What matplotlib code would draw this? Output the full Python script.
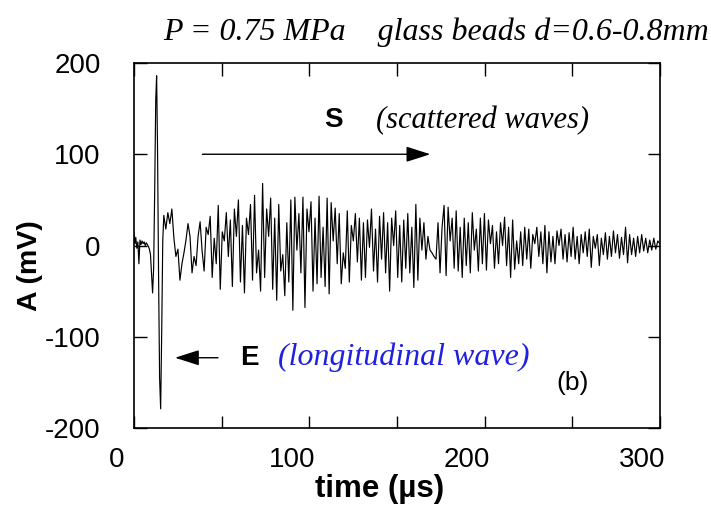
import matplotlib
matplotlib.use("Agg")
import matplotlib.pyplot as plt
import matplotlib.transforms as mtransforms
import numpy as np

plt.rcParams["axes.unicode_minus"] = False

# direct (longitudinal) arrival, read point by point
t_early = [10.0, 10.5, 11.0, 11.6, 12.2, 12.8, 13.4, 14.0, 14.6, 15.2, 15.8,
           16.4, 17.0, 17.6, 18.2, 18.8, 19.4, 20.0, 20.6, 21.2, 21.8, 22.4,
           22.9, 23.4, 24.0, 24.6, 25.2, 25.8, 26.4]
a_early = [14, 2, 9, -3, 4, -20, 6, 1, 5, 2, 4,
           0, 3, 1, -1, -4, -10, -30, -52, -25, 60, 160,
           186, 110, -30, -145, -179, -95, 5]

# scattered coda, one value every coda_dt microseconds from coda_t0
coda_t0 = 27.0
coda_dt = 1.15
a_coda = [
    33, 18, 36, 24, 40, 8, -12, -4, -38, -20,
    -8, 6, 24, 10, -30, -12, -22, 10, 26, -6,
    -28, 20, 12, 32, -35, 8, -20, 44, -48, 15,
    5, 36, -12, 28, -45, 40, 10, 50, -40, 22,
    -52, 30, 12, 45, -38, 55, -30, -5, -50, 68,
    -35, 40, 10, 52, -48, 30, -60, 45, -28, -10,
    -55, 25, -40, 50, -71, 53, -5, 35, -30, 53,
    -68, 40, 15, 48, -50, 30, -42, 54, -35, 20,
    -45, 52, -53, 47, 5, 41, -20, 35, -42, -8,
    -25, 38, -40, 22, 5, 35, -18, 30, -38, 25,
    -35, 28, -2, 40, -28, 18, -40, 32, -15, 36,
    -30, 25, -50, 30, 0, 38, -35, 22, -40, 28,
    -25, 35, -30, 20, -46, 45, -38, 30, -5, 25,
    -15, 10, -5, -8, -12, -15, 25, -30, 20, 44,
    -33, 42, 5, 30, -25, 38, -28, 20, -35, 30,
    -22, 25, -30, 36, -5, 18, -28, 30, -20, 35,
    -27, 28, 2, 22, -25, 15, -20, 25, 0, 31,
    -22, 20, -35, 28, -26, 5, -20, 15, -22, 20,
    -15, 18, -25, 12, 2, 20, -12, 15, -20, 22,
    -30, 15, -18, 10, -20, 16, 0, 18, -15, 12,
    -18, 14, -12, 20, -15, 10, -20, 12, -8, 15,
    -12, 18, -24, 10, -3, 12, -22, 8, -10, 14,
    -15, 10, -12, 16, -8, 12, -14, 9, -10, 20,
    -19, 12, -10, 8, -12, 10, -8, 12, -6, 8,
    -8, 6, -5, 8, -4, 5, 2,
]

x_tick_marks = [10, 60, 110, 160, 210, 260, 310]
x_labels = [0, 100, 200, 300]
y_ticks = [-200, -100, 0, 100, 200]

t_coda = coda_t0 + coda_dt * np.arange(len(a_coda))
t = np.concatenate([t_early, t_coda])
a = np.concatenate([a_early, a_coda])

sans = "Liberation Sans"
serif = "Liberation Serif"

fig = plt.figure(figsize=(7.11, 5.22), dpi=100)
ax = fig.add_axes([134 / 711, 1 - 428 / 522, 526 / 711, 365 / 522])

ax.plot(t, a, color="black", lw=0.85)

ax.set_xlim(10, 310)
ax.set_ylim(-200, 200)
ax.set_xticks(x_tick_marks)
ax.set_yticks(y_ticks)
ax.tick_params(direction="in", length=9, width=1, top=True, right=True,
               labelbottom=False, pad=24)
for lab in ax.get_yticklabels():
    lab.set_fontfamily(sans)
    lab.set_fontsize(20)
for sp in ax.spines.values():
    sp.set_linewidth(1.2)

# x labels sit at their own values, below the frame
trans = mtransforms.blended_transform_factory(ax.transData, fig.transFigure)
for v in x_labels:
    ax.text(v, 1 - 460 / 522, str(v), transform=trans, ha="center", va="center",
            fontsize=20, family=sans)
ax.text(150, 1 - 489 / 522, "time (µs)", transform=trans, ha="center", va="center",
        fontsize=22.5, fontweight="bold", family=sans)
fig.text(30 / 711, 1 - 266 / 522, "A (mV)", rotation=90, ha="center", va="center",
         fontsize=20.5, fontweight="bold", family=sans)

fig.text(436 / 711, 1 - 32 / 522, "P = 0.75 MPa    glass beads d=0.6-0.8mm",
         ha="center", va="center", fontsize=23, style="italic", family=serif)

# annotations
arrow_style = "-|>,head_length=0.75,head_width=0.24"
ax.annotate("", xy=(179, 100), xytext=(49, 100),
            arrowprops=dict(arrowstyle=arrow_style, color="black", lw=1,
                            mutation_scale=20, shrinkA=0, shrinkB=0))
ax.text(123.5, 137, "S", ha="center", va="center", fontsize=20,
        fontweight="bold", family=sans)
ax.text(209, 137, "(scattered waves)", ha="center", va="center", fontsize=22,
        style="italic", family=serif)

ax.annotate("", xy=(33.4, -123), xytext=(57.9, -123),
            arrowprops=dict(arrowstyle=arrow_style, color="black", lw=1,
                            mutation_scale=20, shrinkA=0, shrinkB=0))
ax.text(75.6, -123, "E", ha="center", va="center", fontsize=20,
        fontweight="bold", family=sans)
ax.text(164, -123, "(longitudinal wave)", ha="center", va="center", fontsize=23,
        style="italic", family=serif, color="#2020e0")
ax.text(260.4, -151, "(b)", ha="center", va="center", fontsize=19, family=sans)

fig.savefig("out.png", dpi=100)
